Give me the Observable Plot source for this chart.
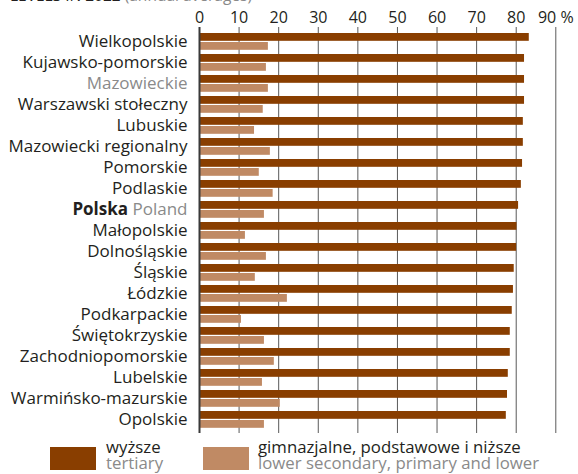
<!DOCTYPE html>
<html>
<head>
<meta charset="utf-8">
<script src="https://cdn.jsdelivr.net/npm/d3@7"></script>
<script src="https://cdn.jsdelivr.net/npm/@observablehq/plot@0.6"></script>
<style>
  html, body { margin: 0; padding: 0; background: #fff; }
  body { width: 578px; height: 474px; position: relative; overflow: hidden; font-family: "Open Sans", sans-serif; color: #231f20; }
  #title { position: absolute; left: 10px; top: -12px; font-size: 15.5px; line-height: 15px; white-space: nowrap; }
  #title .en { color: #8a8a8a; }
  #chart { position: absolute; left: 0; top: 0; }
  .leg { position: absolute; top: 447px; width: 46px; height: 23px; }
  .legtxt { position: absolute; top: 439px; font-size: 16.8px; line-height: 16px; white-space: nowrap; }
  .legtxt .en { color: #8a8a8a; }
</style>
</head>
<body>
<div id="title">LEVELS IN 2022 <span class="en">(annual averages)</span></div>
<div id="chart"></div>
<div class="leg" style="left:50px;background:#893e00"></div>
<div class="legtxt" style="left:106px">wyższe<br><span class="en">tertiary</span></div>
<div class="leg" style="left:203px;background:#c08a64"></div>
<div class="legtxt" style="left:258px">gimnazjalne, podstawowe i niższe<br><span class="en">lower secondary, primary and lower</span></div>
<script>
const regions = ["Wielkopolskie","Kujawsko-pomorskie","Mazowieckie","Warszawski stołeczny","Lubuskie","Mazowiecki regionalny","Pomorskie","Podlaskie","Polska Poland","Małopolskie","Dolnośląskie","Śląskie","Łódzkie","Podkarpackie","Świętokrzyskie","Zachodniopomorskie","Lubelskie","Warmińsko-mazurskie","Opolskie"];
const tertiary = [83.3,82.1,82.1,82.1,81.8,81.8,81.6,81.3,80.6,80.2,80.1,79.5,79.3,79.0,78.5,78.5,78.0,77.8,77.5];
const lowerSecondary = [17.4,16.9,17.4,16.1,13.9,17.9,15.1,18.6,16.4,11.6,16.9,14.1,22.2,10.6,16.4,18.9,15.9,20.4,16.4];
const xTicks = [0,10,20,30,40,50,60,70,80,90];

const data = regions.map((r, i) => ({region: r, tertiary: tertiary[i], lower: lowerSecondary[i]}));

const step = 21.19;
const top0 = 29;
const chart = Plot.plot({
  width: 578,
  height: 437,
  marginTop: 27,
  marginBottom: 4,
  marginLeft: 199,
  marginRight: 22.7,
  style: {fontFamily: "Open Sans", fontSize: "16px", color: "#231f20", background: "transparent"},
  x: {domain: [0, 90], axis: "top", ticks: xTicks, tickSize: 0, tickPadding: 5, tickFormat: d => d === 90 ? "90 %" : String(d), label: null},
  y: {domain: regions, range: [top0, top0 + regions.length * step], padding: 0, axis: null},
  marks: [
    Plot.ruleX(xTicks.filter(d => d > 0), {stroke: "#5a5a5a", strokeWidth: 1}),
    Plot.barX(data, {x: "tertiary", y: "region", fill: "#893e00", insetTop: 2, insetBottom: step - 10}),
    Plot.barX(data, {x: "lower", y: "region", fill: "#c08a64", insetTop: 11, insetBottom: step - 19}),
    Plot.ruleX([0], {stroke: "#3a3a3a", strokeWidth: 2}),
    Plot.text(regions, {y: d => d, text: d => d, frameAnchor: "left", dx: -12, textAnchor: "end", fontSize: 17,
      fill: d => d === "Mazowieckie" ? "#8a8a8a" : "#231f20"})
  ]
});
document.getElementById("chart").appendChild(chart);

d3.select(chart).selectAll("text").filter(function() { return this.textContent === "Polska Poland"; })
  .each(function() {
    const t = d3.select(this);
    t.text(null);
    t.append("tspan").attr("font-weight", "bold").attr("fill", "#231f20").text("Polska");
    t.append("tspan").attr("fill", "#8a8a8a").text(" Poland");
  });
</script>
</body>
</html>
